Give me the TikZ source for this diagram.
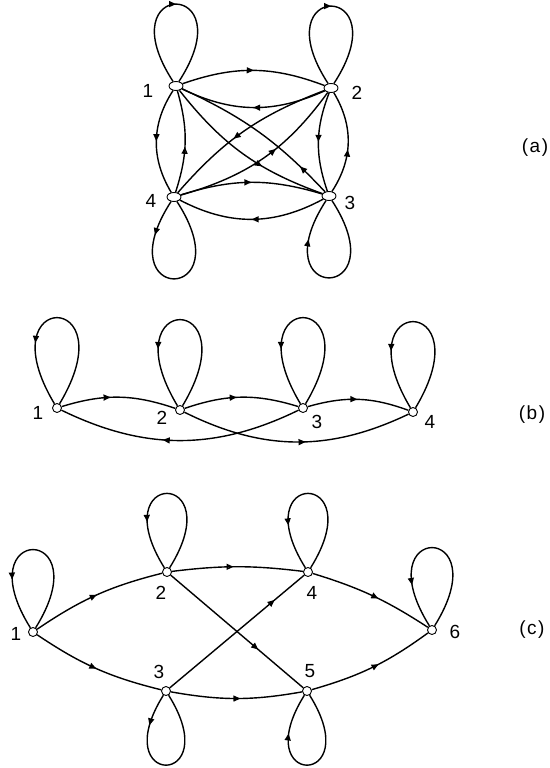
\documentclass[tikz,border=0pt]{standalone}
\usepackage{fontspec}
\setsansfont{Liberation Sans}
\usepackage{tikz}
\usetikzlibrary{arrows.meta, shapes.geometric, decorations.markings}

\begin{document}
\begin{tikzpicture}[
    x=1pt, y=1pt,
    vtx/.style={circle, draw, line width=0.9pt, fill=white, inner sep=0pt, minimum size=9pt},
    flatvtx/.style={ellipse, draw, line width=0.9pt, fill=white, inner sep=0pt, minimum width=14pt, minimum height=9pt},
    lbl/.style={font=\sffamily\fontsize{19}{22}\selectfont, inner sep=0pt},
    link/.style={line width=1.4pt},
    mid/.style={link, postaction={decorate}, decoration={markings, mark=at position #1 with {\arrow{Triangle[length=7pt, width=6pt]}}}},
    mid/.default=0.5,
    midopen/.style={link, postaction={decorate}, decoration={markings, mark=at position #1 with {\arrow{Triangle[open, length=7pt, width=6pt]}}}},
    midopen/.default=0.5
]
    \useasboundingbox (0,0) rectangle (549,-768);

    \node[flatvtx] (a1) at (176,-86) {};
    \node[flatvtx] (a2) at (331,-88) {};
    \node[flatvtx] (a3) at (329,-196) {};
    \node[flatvtx] (a4) at (174,-197) {};
    \node[lbl] (a1l) at (148,-91) {1};
    \node[lbl] (a2l) at (357,-93) {2};
    \node[lbl] (a3l) at (350,-203) {3};
    \node[lbl] (a4l) at (151,-201) {4};
    \node[lbl] (alab) at (535,-148) {(\kern1.5pt a\kern1.5pt)};

    \draw[mid] (a1) to[out=123, in=57, distance=123pt] (a1);
    \draw[mid] (a2) to[out=123, in=57, distance=123pt] (a2);
    \draw[mid=0.2] (a4) to[out=-123, in=-57, distance=123pt] (a4);
    \draw[mid=0.77] (a3) to[out=-57, in=-123, distance=123pt] (a3);
    \draw[mid] (a1) to[bend left=20] (a2);
    \draw[mid] (a2) to[bend left=25] (a1);
    \draw[mid] (a4) to[bend left=17] (a3);
    \draw[mid] (a3) to[bend left=28] (a4);
    \draw[mid] (a1) to[bend right=32] (a4);
    \draw[midopen=0.45] (a4) to[bend right=17] (a1);
    \draw[mid] (a2) to[bend right=20] (a3);
    \draw[mid=0.43] (a3) to[bend right=32] (a2);
    \draw[mid=0.63] (a1) to[bend right=16] (a3);
    \draw[mid=0.2] (a3) to[bend right=11] (a1);
    \draw[mid=0.57] (a2) to[bend right=14] (a4);
    \draw[mid=0.58] (a4) to[bend right=19] (a2);

    \node[vtx] (b1) at (57,-408) {};
    \node[vtx] (b2) at (180,-410) {};
    \node[vtx] (b3) at (303,-408) {};
    \node[vtx] (b4) at (413,-412) {};
    \node[lbl] (b1l) at (38,-413) {1};
    \node[lbl] (b2l) at (162,-418) {2};
    \node[lbl] (b3l) at (317,-422) {3};
    \node[lbl] (b4l) at (430,-422) {4};
    \node[lbl] (blab) at (532,-415) {(\kern1.5pt b\kern1.5pt)};

    \draw[mid=0.68] (b1) to[out=59, in=121, distance=134pt] (b1);
    \draw[mid=0.7] (b2) to[out=59, in=121, distance=134pt] (b2);
    \draw[mid=0.71] (b3) to[out=59, in=121, distance=134pt] (b3);
    \draw[mid=0.7] (b4) to[out=59, in=121, distance=134pt] (b4);
    \draw[mid=0.43] (b1) to[bend left=18] (b2);
    \draw[mid=0.46] (b2) to[bend left=18] (b3);
    \draw[mid=0.49] (b3) to[bend left=18] (b4);
    \draw[mid=0.54] (b2) to[bend right=26] (b4);
    \draw[mid=0.57] (b3) to[bend left=26] (b1);

    \node[vtx] (c1) at (33,-632) {};
    \node[vtx] (c2) at (167,-572) {};
    \node[vtx] (c3) at (166,-691) {};
    \node[vtx] (c4) at (308,-572) {};
    \node[vtx] (c5) at (307,-691) {};
    \node[vtx] (c6) at (432,-630) {};
    \node[lbl] (c1l) at (16,-634) {1};
    \node[lbl] (c2l) at (161,-593) {2};
    \node[lbl] (c3l) at (159,-672) {3};
    \node[lbl] (c4l) at (312,-593) {4};
    \node[lbl] (c5l) at (310,-671) {5};
    \node[lbl] (c6l) at (455,-632) {6};
    \node[lbl] (clab) at (532,-630) {(\kern1.5pt c\kern1.5pt)};

    \draw[mid=0.72] (c1) to[out=58, in=122, distance=123pt] (c1);
    \draw[mid=0.72] (c2) to[out=58, in=122, distance=117pt] (c2);
    \draw[mid=0.74] (c4) to[out=58, in=122, distance=117pt] (c4);
    \draw[mid=0.76] (c6) to[out=58, in=122, distance=123pt] (c6);
    \draw[mid=0.2] (c3) to[out=-122, in=-58, distance=110pt] (c3);
    \draw[mid=0.75] (c5) to[out=-58, in=-122, distance=110pt] (c5);
    \draw[mid] (c1) to[bend left=10] (c2);
    \draw[mid] (c1) to[bend right=10] (c3);
    \draw[midopen=0.47] (c2) to[bend left=7] (c4);
    \draw[mid=0.53] (c3) to[bend right=10] (c5);
    \draw[mid=0.66] (c2) -- (c5);
    \draw[mid=0.78] (c3) -- (c4);
    \draw[mid=0.55] (c4) to[bend left=8] (c6);
    \draw[mid=0.55] (c5) to[bend right=10] (c6);
\end{tikzpicture}
\end{document}
